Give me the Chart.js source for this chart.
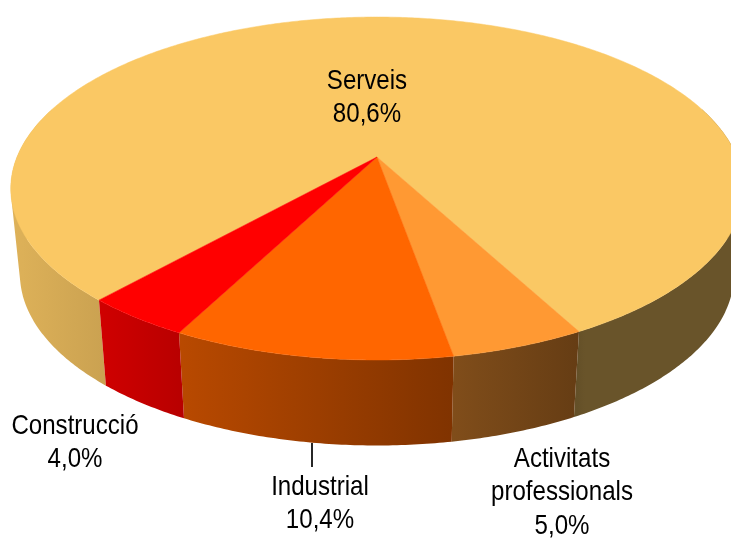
<!DOCTYPE html>
<html>
<head>
<meta charset="utf-8">
<title>Serveis 80,6%</title>
<script src="https://cdn.jsdelivr.net/npm/chart.js@4"></script>
<style>
    html, body { margin: 0; padding: 0; background: #fff; }
    canvas { display: block; }
</style>
</head>
<body>
<canvas id="pieChart" width="731" height="538"></canvas>
<script>
// Chart data
const sectors = ['Serveis', ['Activitats', 'professionals'], 'Industrial', 'Construcció'];
const shares = [80.6, 5.0, 10.4, 4.0];
const sliceColors = ['#FAC864', '#FF9933', '#FF6600', '#FF0000'];

// Label anchors, same order as sectors (x centre, y of first line)
const labelAnchors = [[367, 81], [562, 459], [320, 487], [75, 426]];
const lineHeight = 33.5;

// Tilted disc with a bit of perspective: apex, radius, perspective strength
const view = { cx: 377, cy: 157, rx: 360, ry: 165.7, k: 0.1837, depth: 85.5, shrink: 0.975 };

// wall brightness from left to right of the picture
const wallLight = [[0, 0.9], [0.03, 0.88], [0.14, 0.81], [0.25, 0.72], [0.62, 0.5], [0.79, 0.4], [0.8, 0.42], [1, 0.42]];

function project(angle) {
    const u = Math.cos(angle), v = Math.sin(angle);
    const w = 1 - view.k * v;
    return [view.cx + view.rx * u / w, view.cy + view.ry * v / w];
}

function projectLow(angle) {
    const p = project(angle);
    return [view.cx + view.shrink * (p[0] - view.cx), p[1] + view.depth];
}

function shade(hex, f) {
    const n = parseInt(hex.slice(1), 16);
    const r = Math.round(((n >> 16) & 255) * f);
    const g = Math.round(((n >> 8) & 255) * f);
    const b = Math.round((n & 255) * f);
    return `rgb(${r},${g},${b})`;
}

function drawWall(ctx, arc, color, width) {
    const grad = ctx.createLinearGradient(0, 0, width, 0);
    wallLight.forEach(s => grad.addColorStop(s[0], shade(color, s[1])));
    const steps = Math.ceil((arc.endAngle - arc.startAngle) / 0.01);
    ctx.beginPath();
    for (let i = 0; i < steps; i++) {
        const a0 = arc.startAngle + (arc.endAngle - arc.startAngle) * i / steps;
        const a1 = arc.startAngle + (arc.endAngle - arc.startAngle) * (i + 1) / steps;
        if (Math.sin(a0) < -0.3 && Math.sin(a1) < -0.3) continue; // hidden behind the top
        const pts = [project(a0), project(a1), projectLow(a1), projectLow(a0)];
        // keep the winding the same on every quad
        const area = (pts[1][0] - pts[0][0]) * (pts[2][1] - pts[0][1]) - (pts[1][1] - pts[0][1]) * (pts[2][0] - pts[0][0]);
        if (area < 0) pts.reverse();
        ctx.moveTo(pts[0][0], pts[0][1]);
        for (let j = 1; j < 4; j++) ctx.lineTo(pts[j][0], pts[j][1]);
        ctx.closePath();
    }
    ctx.fillStyle = grad;
    ctx.fill();
}

function drawTop(ctx, arc, color) {
    const steps = Math.ceil((arc.endAngle - arc.startAngle) / 0.01);
    ctx.beginPath();
    ctx.moveTo(view.cx, view.cy);
    for (let i = 0; i <= steps; i++) {
        const p = project(arc.startAngle + (arc.endAngle - arc.startAngle) * i / steps);
        ctx.lineTo(p[0], p[1]);
    }
    ctx.closePath();
    ctx.fillStyle = color;
    ctx.strokeStyle = color;
    ctx.lineWidth = 0.5;
    ctx.fill();
    ctx.stroke();
}

const tiltedPie = {
    id: 'tiltedPie',
    beforeDatasetsDraw(chart) {
        const ctx = chart.ctx;
        const arcs = chart.getDatasetMeta(0).data;
        ctx.save();
        arcs.forEach((arc, i) => drawWall(ctx, arc, sliceColors[i], chart.width));
        arcs.forEach((arc, i) => drawTop(ctx, arc, sliceColors[i]));
        ctx.restore();
        return false; // the flat arcs are replaced by the tilted ones
    },
    afterDraw(chart) {
        const ctx = chart.ctx;
        ctx.save();
        // leader line of Industrial
        ctx.strokeStyle = '#000';
        ctx.lineWidth = 1.7;
        ctx.beginPath();
        ctx.moveTo(312, 443);
        ctx.lineTo(312, 467);
        ctx.stroke();

        // the original type is condensed, so squeeze it sideways
        ctx.fillStyle = '#000';
        ctx.font = '28px "Liberation Sans", sans-serif';
        ctx.textAlign = 'center';
        ctx.textBaseline = 'middle';
        sectors.forEach((sector, i) => {
            const lines = [].concat(sector, shares[i].toFixed(1).replace('.', ',') + '%');
            lines.forEach((line, n) => {
                ctx.save();
                ctx.translate(labelAnchors[i][0], labelAnchors[i][1] + n * lineHeight);
                ctx.scale(0.86, 1);
                ctx.fillText(line, 0, 0);
                ctx.restore();
            });
        });
        ctx.restore();
    }
};

new Chart(document.getElementById('pieChart'), {
    type: 'pie',
    data: {
        labels: sectors,
        datasets: [{ data: shares, backgroundColor: sliceColors, borderWidth: 0 }]
    },
    options: {
        responsive: false,
        animation: false,
        rotation: 221.8,
        plugins: { legend: { display: false }, tooltip: { enabled: false } }
    },
    plugins: [tiltedPie]
});
</script>
</body>
</html>
